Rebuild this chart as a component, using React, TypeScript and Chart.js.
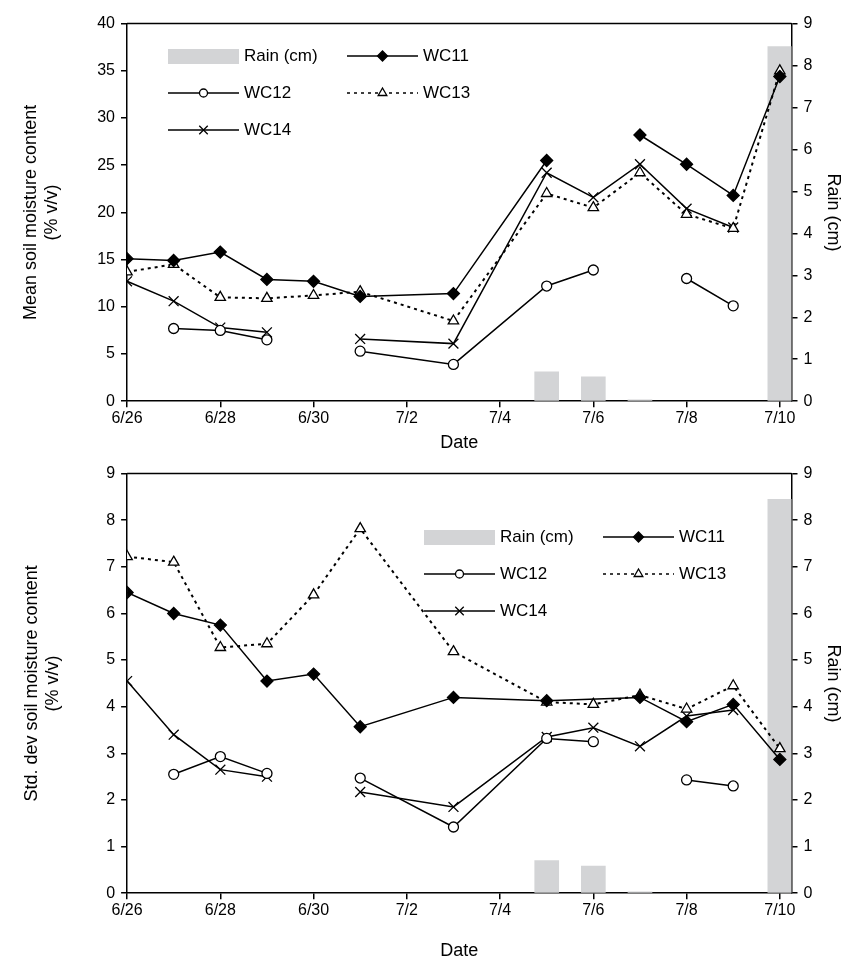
import { useEffect, useRef } from 'react';
import Chart from 'chart.js/auto';
import { drawPoint } from 'chart.js/helpers';

const dayLabels = ['6/26', '6/27', '6/28', '6/29', '6/30', '7/1', '7/2', '7/3', '7/4', '7/5', '7/6', '7/7', '7/8', '7/9', '7/10'];
const days = [0, 1, 2, 3, 4, 5, 7, 9, 10, 11, 12, 13, 14];

const rainDays = [9, 10, 11, 14];
const rainCm = [0.7, 0.58, 0.03, 8.45];

// mean soil moisture (% v/v), one value per entry of `days`, null = gap
const meanWC11 = [15.1, 14.9, 15.8, 12.9, 12.7, 11.1, 11.4, 25.5, null, 28.2, 25.1, 21.8, 34.4];
const meanWC12 = [null, 7.7, 7.5, 6.5, null, 5.3, 3.9, 12.2, 13.9, null, 13.0, 10.1, null];
const meanWC13 = [13.7, 14.5, 11.0, 10.9, 11.2, 11.6, 8.5, 22.0, 20.5, 24.2, 19.8, 18.3, 35.0];
const meanWC14 = [12.7, 10.6, 7.8, 7.3, null, 6.6, 6.1, 24.2, 21.6, 25.1, 20.4, 18.4, null];

// std. dev soil moisture
const sdWC11 = [6.45, 6.0, 5.75, 4.55, 4.7, 3.57, 4.2, 4.13, undefined, 4.2, 3.68, 4.05, 2.87];
const sdWC12 = [null, 2.55, 2.93, 2.57, null, 2.47, 1.42, 3.32, 3.25, null, 2.43, 2.3, null];
const sdWC13 = [7.22, 7.1, 5.27, 5.35, 6.4, 7.82, 5.18, 4.1, 4.05, 4.25, 3.95, 4.45, 3.1];
const sdWC14 = [4.55, 3.4, 2.65, 2.5, null, 2.17, 1.85, 3.35, 3.55, 3.15, 3.8, 3.93, null];

const FONT = '"Liberation Sans", Arial, sans-serif';

type Vals = (number | null | undefined)[];
const pts = (v: Vals) =>
  days.map((d, i) => ({ x: d, y: v[i] })).filter(p => p.y !== undefined) as { x: number; y: number | null }[];

const styles = [
  { label: 'WC11', style: 'rectRot', fill: '#000', r: 6, lr: 5, dash: [] as number[] },
  { label: 'WC12', style: 'circle', fill: '#fff', r: 5, lr: 4, dash: [] as number[] },
  { label: 'WC13', style: 'triangle', fill: '#fff', r: 6, lr: 5, dash: [3, 4] },
  { label: 'WC14', style: 'crossRot', fill: '#fff', r: 7, lr: 6, dash: [] as number[] },
];

type Opts = {
  leftMax: number; leftStep: number; leftTitle: string[];
  legendX: number; legendY: number; padTop: number; padLeft: number;
  yTitlePad: number; dateTitlePad: number;
};

function makeChart(canvas: HTMLCanvasElement, series: Vals[], o: Opts) {
  const legendPlugin = {
    id: 'legendBox',
    afterDraw(chart: any) {
      const { ctx, chartArea } = chart;
      ctx.save();
      ctx.strokeStyle = '#000';
      ctx.lineWidth = 1.5;
      ctx.beginPath();
      ctx.moveTo(chartArea.left, chartArea.top);
      ctx.lineTo(chartArea.right, chartArea.top);
      ctx.stroke();
      ctx.font = `17px ${FONT}`;
      ctx.textBaseline = 'middle';
      const colW = 179, rowH = 37, sw = 71;
      const items = [{ label: 'Rain (cm)' }, ...styles];
      items.forEach((it: any, i) => {
        const x = o.legendX + (i % 2) * colW;
        const y = o.legendY + Math.floor(i / 2) * rowH;
        if (i === 0) {
          ctx.fillStyle = '#d3d4d6';
          ctx.fillRect(x, y - 7, sw, 15);
        } else {
          ctx.strokeStyle = '#000';
          ctx.lineWidth = 1.5;
          ctx.setLineDash(it.dash);
          ctx.beginPath();
          ctx.moveTo(x, y);
          ctx.lineTo(x + sw, y);
          ctx.stroke();
          ctx.setLineDash([]);
          ctx.fillStyle = it.fill;
          ctx.lineWidth = 1.3;
          drawPoint(ctx, { pointStyle: it.style, radius: it.lr, borderWidth: 1.3 } as any, x + sw / 2, y);
        }
        ctx.fillStyle = '#000';
        ctx.fillText(it.label, x + sw + 5, y);
      });
      ctx.restore();
    },
  };

  const tickFont = { family: FONT, size: 16 };
  const titleFont = { family: FONT, size: 18 };
  const grid = { drawOnChartArea: false, offset: false, tickLength: 6, color: '#000', lineWidth: 1.5 };
  const border = { color: '#000', width: 1.5 };

  return new Chart(canvas, {
    data: {
      datasets: [
        ...series.map((v, i) => ({
          type: 'line' as const,
          label: styles[i].label,
          data: pts(v),
          yAxisID: 'y',
          borderColor: '#000',
          borderWidth: i === 2 ? 2 : 1.5,
          borderDash: styles[i].dash,
          pointStyle: styles[i].style as any,
          pointRadius: styles[i].r,
          pointBackgroundColor: styles[i].fill,
          pointBorderColor: '#000',
          pointBorderWidth: 1.3,
          spanGaps: false,
          order: 1,
        })),
        {
          type: 'bar' as const,
          label: 'Rain (cm)',
          data: rainDays.map((d, i) => ({ x: d, y: rainCm[i] })),
          yAxisID: 'y2',
          backgroundColor: '#d3d4d6',
          barThickness: 24,
          order: 2,
        },
      ],
    },
    options: {
      animation: false,
      responsive: false,
      layout: { padding: { top: o.padTop, right: 0, left: o.padLeft, bottom: 0 } },
      plugins: { legend: { display: false }, tooltip: { enabled: false } },
      scales: {
        x: {
          type: 'linear', min: 0, max: 14.25, offset: false,
          afterBuildTicks: (s: any) => {
            s.ticks = dayLabels.map((_, i) => ({ value: i })).filter(t => t.value % 2 === 0);
          },
          ticks: { color: '#000', font: tickFont, padding: 2, maxRotation: 0, autoSkip: false,
            callback: (v: any) => dayLabels[v] ?? '' },
          grid, border,
          title: { display: true, text: 'Date', color: '#000', font: titleFont, padding: { top: o.dateTitlePad } },
        },
        y: {
          min: 0, max: o.leftMax,
          ticks: { stepSize: o.leftStep, color: '#000', font: tickFont, padding: 6 },
          grid, border,
          title: { display: true, text: o.leftTitle, color: '#000', font: titleFont, padding: { bottom: o.yTitlePad } },
        },
        y2: {
          position: 'right', min: 0, max: 9,
          ticks: { stepSize: 1, color: '#000', font: tickFont, padding: 6 },
          grid, border,
          title: { display: true, text: 'Rain (cm)', color: '#000', font: titleFont, padding: { top: 22 } },
        },
      },
    } as any,
    plugins: [legendPlugin],
  });
}

export default function App() {
  const topRef = useRef<HTMLCanvasElement>(null);
  const botRef = useRef<HTMLCanvasElement>(null);

  useEffect(() => {
    if (!topRef.current || !botRef.current) return;
    const a = makeChart(topRef.current, [meanWC11, meanWC12, meanWC13, meanWC14], {
      leftMax: 40, leftStep: 5, leftTitle: ['Mean soil moisture content', '(% v/v)'],
      legendX: 160, legendY: 48, padTop: 3, padLeft: 8, yTitlePad: 28, dateTitlePad: 2,
    });
    const b = makeChart(botRef.current, [sdWC11, sdWC12, sdWC13, sdWC14], {
      leftMax: 9, leftStep: 1, leftTitle: ['Std. dev soil moisture content', '(% v/v)'],
      legendX: 416, legendY: 79, padTop: 3, padLeft: 9, yTitlePad: 36, dateTitlePad: 18,
    });
    return () => { a.destroy(); b.destroy(); };
  }, []);

  return (
    <div style={{ width: 858, fontFamily: FONT }}>
      <canvas ref={topRef} width={858} height={450} style={{ display: 'block' }} />
      <canvas ref={botRef} width={858} height={508} style={{ display: 'block' }} />
    </div>
  );
}
